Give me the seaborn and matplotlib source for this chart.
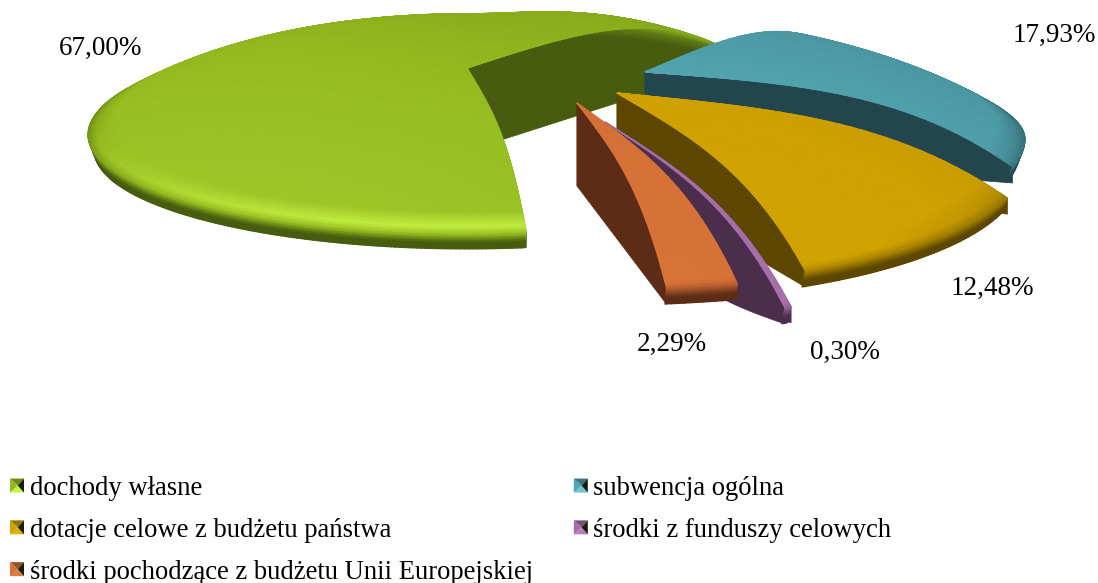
import numpy as np
import matplotlib
matplotlib.use("Agg")
import matplotlib.pyplot as plt
from matplotlib.patches import Polygon, Patch
from matplotlib.legend_handler import HandlerBase
import seaborn as sns

categories = ["dochody własne", "subwencja ogólna", "dotacje celowe z budżetu państwa",
              "środki z funduszy celowych", "środki pochodzące z budżetu Unii Europejskiej"]
shares = [67.00, 17.93, 12.48, 0.30, 2.29]
label_xy = [(101, 48), (1054, 35), (992, 288), (845, 352), (672, 344)]

base_cols = ["#93B91F", "#52A5B0", "#CFA200", "#A56CA8", "#D57136"]
dark_cols = ["#475C0F", "#22454E", "#5C4600", "#4A2E4C", "#5C2C17"]
light_cols = ["#C6F544", "#6CC4CF", "#DDB000", "#B97FBC", "#DE7C40"]
ring_gain = [0.35, 0.0, 0.0, 0.1, 0.0]

# screen geometry of each exploded slice:
# apex x, apex y, rx, ry front, ry rear, angular turn, bulge of the lower edge, rear lift
geom = [(467, 68, 379, 98, 105, -4, 0, 0.8),
        (645, 72, 380, 110, 105, 8, 0, 0.2),
        (617, 93, 410, 125, 105, 5, 0, 0.0),
        (605, 122, 380, 135, 105, 7, 18, 0.0),
        (577, 103, 510, 120, 105, -2.9, 0, 0.0)]
DOME, WALL, POWER = 67.0, 16.0, 3.5

sns.set_theme(style="white")
plt.rcParams["font.family"] = ["Liberation Serif", "DejaVu Serif"]

fig = plt.figure(figsize=(10.98, 5.83), dpi=100)
ax = fig.add_axes([0, 0, 1, 1])
wedges, _ = ax.pie(shares, startangle=283, counterclock=False)
for w in wedges:
    w.set_visible(False)
ax.set_aspect("auto")
ax.set_xlim(0, 1098)
ax.set_ylim(583, 0)
ax.axis("off")

r_grid = np.r_[np.linspace(1.07, 1.0, 6), np.linspace(0.99, 0.90, 10), np.linspace(0.87, 0, 30)]


def surface(r, th, cx, cy, rx, ryf, ryb, lift):
    s, c = np.sin(th), np.cos(th)
    sr, cr = np.clip(s, 0, 1), np.clip(c, 0, 1)
    ry = np.where(s < 0, ryf, ryb * (1 + lift * sr * cr ** 2))
    rxe = rx * (1 - 0.33 * np.where(c > 0, sr ** 2, 0))
    rp = np.minimum(r, 1.0)
    inset = 1 - 0.25 * np.clip(r - 1, 0, None)
    z = np.where(r <= 1, DOME * (1 - rp ** POWER), -WALL * (r - 1) / 0.07)
    return cx + rp * inset * rxe * c, cy - rp * ry * s - z


for w, g, base, dark, light, gain in zip(wedges, geom, base_cols, dark_cols, light_cols, ring_gain):
    ax_, ay, rx, ryf, ryb, turn, bulge, lift = g
    cy = ay + DOME
    t1, t2 = np.deg2rad(w.theta1 + turn), np.deg2rad(w.theta2 + turn)
    # cut faces
    for th in (t1, t2):
        rr = np.linspace(0, 1, 50)
        X, Y = surface(rr, th, ax_, cy, rx, ryf, ryb, lift)
        bottom = Y + DOME * (1 - rr ** POWER) + WALL + bulge * np.sin(np.pi * rr)
        ax.fill(np.r_[X, X[::-1]], np.r_[Y, bottom[::-1]], color=dark, lw=0.5)
    # top surface with rounded rim
    n = max(6, int(np.degrees(t2 - t1) * 1.5))
    th = np.linspace(t1, t2, n)
    T, R = np.meshgrid(th, r_grid)
    X, Y = surface(R, T, ax_, cy, rx, ryf, ryb, lift)
    front = np.clip(-np.sin(T), -1, 1)
    left = np.clip(-np.cos(T), -1, 1)
    v = 0.5 + 0.15 * R * (0.6 * front + 0.4 * left)
    ring = np.clip((R - 0.93) / 0.05, 0, 1)
    v = v + ring * (gain * np.clip(front, 0, 1) - 0.12 * np.clip(1 - front, 0, 1))
    fall = np.clip((R - 0.98) / 0.06, 0, 1)
    v = v * (1 - fall)
    cmap = sns.blend_palette([dark, base, light], n_colors=64, as_cmap=True)
    ax.pcolormesh(X, Y, v, shading="gouraud", cmap=cmap, vmin=0, vmax=1)

for val, (lx, ly) in zip(shares, label_xy):
    ax.text(lx, ly, f"{val:.2f}%".replace(".", ","), ha="center", va="center",
            fontsize=19.5, color="black")


class BevelHandler(HandlerBase):
    def __init__(self, idx):
        super().__init__()
        self.idx = idx

    def create_artists(self, legend, orig, xd, yd, width, height, fontsize, trans):
        b, d, l = base_cols[self.idx], dark_cols[self.idx], light_cols[self.idx]
        x0, y0 = -xd, -yd + (height - width) / 2
        s = width
        a, bb, c, e, m = (x0, y0), (x0 + s, y0), (x0 + s, y0 + s), (x0, y0 + s), (x0 + .55 * s, y0 + s / 2)
        top = sns.blend_palette([d, b], n_colors=3)[1]
        tris = [([a, bb, m], l), ([e, c, m], top), ([a, e, m], b), ([bb, c, m], "#1c1c0c")]
        return [Polygon(p, closed=True, fc=col, ec="none", transform=trans) for p, col in tris]


handles = [Patch(label=c) for c in categories]
order = [0, 2, 4, 1, 3]
ax.legend([handles[i] for i in order], [categories[i] for i in order],
          handler_map={handles[i]: BevelHandler(i) for i in range(5)},
          ncol=2, loc="upper left", bbox_to_anchor=(10 / 1098, 1 - 476 / 583),
          bbox_transform=ax.transAxes, frameon=False, fontsize=19.2, labelcolor="black",
          borderpad=0, borderaxespad=0, handlelength=0.525, handleheight=0.525,
          handletextpad=0.21, labelspacing=0.63, columnspacing=1.54)

fig.savefig("out.png", dpi=100, facecolor="white")
